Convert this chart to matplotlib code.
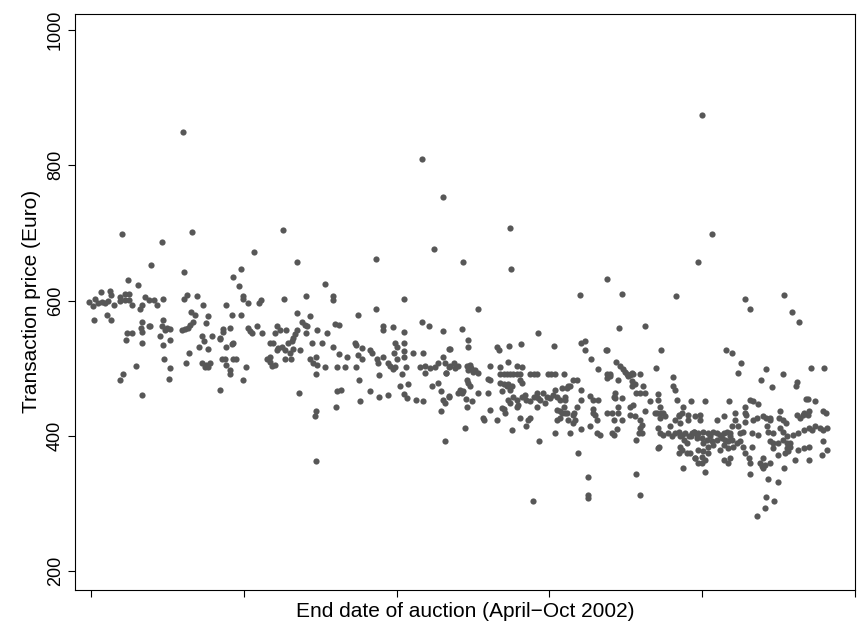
import matplotlib
matplotlib.use("Agg")
import matplotlib.pyplot as plt
import numpy as np

# auction end (days since 1 April 2002) and transaction price (Euro)
april_may = [
    (11.7, 652), (18.3, 643), (7.3, 630), (9.3, 623), (1.9, 613), (3.7, 614), (3.9, 608),
    (-0.3, 598), (0.8, 603), (1.4, 597), (2.1, 598), (2.7, 597), (3.3, 599), (4.5, 593), (0.3, 592),
    (5.7, 606), (6.7, 609), (7.5, 610), (5.7, 600), (6.7, 601), (7.5, 601),
    (8.0, 593), (10.6, 606), (11.3, 601), (12.4, 601), (14.1, 603), (12.9, 593), (10.0, 593), (9.6, 587),
    (18.8, 608), (18.3, 603), (20.9, 607), (21.9, 593), (19.6, 583), (20.4, 578), (23.0, 577),
    (0.6, 572), (3.1, 578), (3.9, 572),
    (10.0, 568), (9.8, 560), (11.3, 562), (11.6, 563),
    (14.2, 572), (13.9, 562), (14.9, 560), (15.5, 558), (14.5, 557),
    (17.8, 557), (18.5, 558), (19.1, 560), (19.4, 564), (20.1, 569), (22.6, 567),
    (7.0, 552), (8.0, 552), (6.8, 542), (10.0, 553), (10.0, 538),
    (13.5, 548), (15.6, 542), (14.2, 534),
    (21.7, 547), (22.2, 540), (21.3, 531), (23.0, 528),
    (19.3, 522), (18.7, 508), (14.4, 513), (15.6, 501), (15.4, 484),
    (21.7, 508), (22.6, 505), (23.4, 508), (22.4, 502), (23.0, 502),
    (8.8, 503), (6.3, 491), (5.7, 483), (10.0, 461),
]

may_june = [
    (32.0, 672), (40.5, 657), (29.5, 647), (27.9, 635), (29.1, 621), (45.9, 624),
    (29.8, 607), (29.9, 603), (30.8, 597), (32.9, 597), (33.4, 601), (37.8, 603), (42.3, 607),
    (26.6, 594), (40.5, 582), (27.6, 578), (29.5, 579),
    (41.4, 568), (42.0, 564), (42.4, 562), (43.0, 577),
    (26.0, 558), (26.0, 553), (27.3, 560), (25.3, 545), (23.7, 547),
    (30.9, 560), (31.2, 555), (31.6, 552), (32.5, 563), (33.5, 552),
    (36.5, 562), (37.1, 557), (36.1, 552), (38.3, 557),
    (40.4, 557), (40.0, 550), (39.7, 545), (39.4, 540), (38.7, 537),
    (44.3, 557), (42.3, 552), (43.3, 538), (45.3, 537), (46.4, 552),
    (25.3, 543), (27.9, 537), (27.6, 536), (26.6, 532),
    (35.1, 537), (35.8, 537), (36.8, 530), (37.5, 532), (36.5, 527), (38.1, 527),
    (41.0, 527), (39.7, 528),
    (35.1, 517), (34.5, 513), (35.1, 509), (35.5, 503), (36.1, 505), (38.1, 513), (39.2, 513), (39.1, 522),
    (25.7, 514), (26.3, 513), (26.6, 505), (27.3, 498), (27.3, 492), (27.9, 513), (28.5, 514),
    (30.4, 502), (29.9, 483), (25.3, 468),
    (43.0, 513), (43.6, 508), (44.2, 517), (44.3, 505), (44.1, 492), (45.9, 502),
    (40.9, 464), (44.2, 436), (44.0, 429), (44.2, 363),
]

june_july = [
    (67.4, 676), (56.0, 662), (47.6, 607), (47.6, 601), (61.5, 603), (56.0, 588), (52.5, 578),
    (48.6, 564), (48.0, 565),
    (57.4, 563), (57.3, 557), (59.2, 561), (64.9, 568), (66.4, 562), (61.5, 553), (69.2, 555),
    (47.6, 531), (51.8, 537), (52.0, 535), (53.2, 530), (54.8, 527), (55.1, 523),
    (59.7, 537), (60.1, 532), (61.5, 538), (61.5, 525), (59.5, 523), (63.3, 522), (65.1, 522), (70.3, 528),
    (48.6, 521), (50.2, 517), (52.5, 519), (53.2, 513), (56.1, 513), (56.3, 508), (57.4, 517), (60.1, 513), (61.5, 517),
    (58.4, 507), (58.7, 503), (59.2, 499), (59.7, 502), (61.0, 492), (61.8, 502),
    (48.4, 502), (49.9, 502), (52.0, 502), (56.6, 490),
    (64.6, 502), (65.6, 503), (66.6, 500), (67.5, 502), (68.2, 507), (69.2, 517), (69.5, 508), (70.2, 502),
    (65.6, 493), (69.7, 493),
    (52.6, 482), (60.7, 474), (62.3, 476), (61.5, 462), (62.1, 456),
    (54.8, 466), (56.6, 458), (58.4, 461), (48.4, 466), (49.0, 468),
    (48.2, 443), (52.8, 451), (63.9, 453), (65.1, 451),
    (67.0, 473), (68.2, 478), (68.7, 467), (69.2, 453), (69.5, 448), (68.7, 437), (70.2, 458),
    (69.5, 393),
]

july = [
    (73.0, 657), (82.5, 647), (76.0, 588), (72.8, 558), (87.8, 552), (74.0, 542), (74.0, 531), (70.5, 529),
    (79.7, 532), (80.2, 527), (82.1, 533), (84.4, 536), (90.9, 533),
    (70.5, 503), (71.2, 508), (71.5, 500), (72.1, 503), (69.8, 493),
    (73.8, 503), (74.4, 505), (74.7, 500), (75.1, 495), (75.4, 498), (75.9, 493), (74.1, 497),
    (78.3, 503), (80.3, 502), (81.9, 509), (83.6, 503), (84.7, 502),
    (80.3, 492), (81.0, 492), (81.6, 492), (82.3, 492), (82.9, 492), (83.6, 492), (84.2, 492),
    (86.2, 492), (86.9, 492), (87.5, 492),
    (89.8, 492), (90.4, 492), (91.1, 492), (92.9, 492),
    (78.0, 484), (78.3, 483), (73.8, 483), (74.1, 478), (74.4, 473), (84.2, 483), (84.6, 478),
    (80.3, 478), (81.0, 476), (81.6, 473), (81.9, 476), (82.6, 473), (82.3, 468),
    (72.5, 468), (72.8, 463), (72.1, 463), (73.1, 466), (76.0, 464), (78.0, 464), (80.6, 466),
    (70.3, 459), (73.6, 454), (73.8, 443), (74.9, 452), (78.3, 438), (77.0, 426), (81.0, 440), (81.3, 434),
    (81.9, 453), (82.3, 448), (82.9, 458), (83.6, 453), (83.9, 446), (83.6, 443),
    (84.6, 458), (85.2, 461), (85.5, 453), (86.2, 451), (86.9, 458), (87.5, 463), (87.8, 456), (88.2, 453),
    (88.8, 463), (89.5, 458), (90.1, 456), (90.8, 461), (91.1, 468), (91.4, 458), (92.1, 453), (93.1, 458),
    (93.4, 471), (93.7, 473),
    (89.1, 448), (91.4, 438), (92.1, 436), (93.1, 434),
    (86.2, 426), (87.5, 443), (84.2, 426),
    (77.2, 424), (79.7, 423), (80.6, 441), (73.4, 411), (82.6, 408), (85.9, 424), (85.5, 414),
    (88.0, 392), (86.8, 303), (91.1, 404), (94.0, 404), (91.4, 424), (92.1, 426), (93.7, 424),
]

august = [
    (119.2, 657), (101.3, 632), (96.0, 608), (104.3, 609), (114.9, 607), (103.7, 559), (108.8, 562),
    (96.3, 537), (97.0, 540), (97.0, 527), (101.1, 527), (101.4, 527), (111.9, 527), (98.2, 513), (99.5, 499),
    (103.1, 509), (103.9, 503), (104.5, 499), (104.8, 495), (105.2, 492), (105.5, 488), (105.8, 490),
    (106.2, 493), (106.5, 492), (107.8, 492),
    (110.9, 501), (101.3, 492), (101.9, 492), (101.3, 485), (101.9, 488),
    (114.3, 487), (94.6, 482), (95.4, 482), (103.5, 483),
    (106.2, 481), (106.2, 473), (106.8, 476), (108.4, 473), (114.3, 473), (114.7, 468),
    (94.0, 473), (96.3, 468), (92.4, 471),
    (107.1, 463), (107.8, 463), (108.8, 463), (111.4, 462), (102.9, 463), (102.6, 458),
    (98.0, 459), (93.1, 453), (96.3, 453), (98.6, 453), (99.6, 453), (104.2, 456), (102.9, 456),
    (111.4, 453), (117.8, 452), (115.0, 453), (109.8, 451),
    (92.8, 443), (95.4, 443), (94.8, 434), (98.6, 439), (98.9, 431), (101.3, 434), (102.2, 434),
    (103.5, 443), (105.8, 443), (106.5, 446), (108.8, 436), (111.8, 443), (111.2, 434), (112.4, 434),
    (116.3, 443), (115.4, 431), (117.3, 431),
    (94.7, 431), (95.0, 424), (94.6, 419), (92.4, 434), (93.4, 434),
    (96.3, 410), (98.0, 414), (99.3, 404), (100.0, 401), (98.6, 434), (99.3, 424),
    (102.6, 424), (104.2, 424), (103.5, 434), (102.2, 404), (102.6, 401), (103.2, 410),
    (105.8, 431), (106.8, 429), (107.8, 424), (108.1, 416), (107.8, 411), (107.5, 404), (108.1, 404), (107.1, 394),
    (110.7, 434), (112.0, 434), (111.7, 426), (112.7, 429),
    (111.4, 411), (111.7, 404), (112.4, 401), (111.4, 382),
    (113.7, 414), (113.3, 404), (114.0, 399), (114.7, 424), (115.4, 429), (116.0, 434), (115.6, 419), (117.3, 424),
    (114.7, 404), (115.4, 406), (115.7, 399), (116.0, 401), (116.4, 394), (116.7, 404), (117.0, 389),
    (117.4, 399), (118.0, 404), (118.4, 406), (119.0, 401), (115.7, 384), (116.0, 379), (115.4, 374),
    (117.0, 374), (117.7, 375), (118.6, 367), (116.3, 352), (119.2, 360),
    (95.7, 374), (97.5, 339), (97.5, 313), (97.5, 308), (107.1, 344), (107.7, 312), (111.6, 383),
]

september = [
    (128.4, 603), (129.4, 587), (136.1, 608), (137.7, 583), (139.1, 568), (124.7, 527), (125.9, 522),
    (127.6, 507), (127.0, 493), (132.5, 499), (131.6, 482), (133.8, 472), (135.9, 492), (141.4, 501),
    (143.9, 501), (138.6, 479), (138.4, 473),
    (120.6, 452), (125.3, 452), (128.4, 443), (129.3, 453), (130.0, 451), (131.0, 447), (140.3, 454),
    (140.8, 455), (142.2, 452), (135.3, 437), (126.4, 434), (128.4, 434), (119.6, 431), (124.2, 429),
    (138.6, 431), (139.9, 434), (140.9, 436), (143.7, 437), (144.4, 434), (132.0, 429), (133.3, 426), (135.0, 426),
    (118.6, 429), (119.6, 424), (122.9, 424), (126.4, 424), (128.7, 431), (128.4, 421), (130.0, 424),
    (130.7, 426), (132.6, 426), (133.3, 424), (135.9, 423), (136.5, 419), (139.2, 426), (139.8, 431), (140.8, 431),
    (125.8, 414), (127.1, 414), (125.4, 404), (127.4, 404), (128.1, 406), (129.7, 404), (131.0, 401),
    (132.7, 414), (133.0, 406), (134.0, 404), (135.3, 411), (135.9, 406), (136.6, 399), (137.3, 389),
    (137.9, 401), (138.9, 404), (139.9, 409), (140.9, 411), (141.5, 409), (142.2, 414), (143.2, 411),
    (143.8, 409), (144.5, 411),
    (118.3, 406), (119.2, 404), (120.2, 406), (121.2, 404), (121.5, 399), (122.2, 406), (122.9, 404),
    (123.5, 401), (124.2, 404), (124.8, 406), (125.5, 399), (117.9, 399), (118.9, 397), (119.9, 397),
    (120.9, 394), (121.9, 392), (122.9, 394), (123.8, 397), (124.5, 394), (125.1, 392), (125.8, 394),
    (120.2, 389), (121.2, 384), (122.2, 387), (124.2, 387), (125.1, 382), (119.2, 379), (120.2, 377),
    (121.2, 374), (119.9, 369), (120.6, 364), (119.9, 360), (120.6, 347), (118.6, 367), (124.2, 364),
    (125.5, 367), (125.1, 360), (123.5, 379), (126.1, 384), (126.8, 389), (127.5, 392), (128.1, 384),
    (128.4, 374), (129.1, 367), (129.4, 360), (129.7, 384), (129.3, 344),
    (131.4, 360), (131.7, 355), (132.0, 352), (132.4, 357), (133.3, 360), (132.0, 367),
    (133.0, 336), (134.8, 332), (132.5, 309), (132.3, 293), (134.2, 303), (130.8, 281),
    (133.3, 392), (134.0, 389), (134.9, 389), (135.9, 394), (136.6, 389), (137.3, 384),
    (134.0, 382), (134.9, 372), (136.3, 374), (136.6, 382), (136.9, 377), (136.1, 353),
    (138.2, 364), (138.9, 379), (139.9, 382), (140.9, 384), (140.9, 364), (143.5, 372), (144.5, 379), (143.8, 392),
]

outliers = [
    (6.1, 698), (13.9, 687), (18.1, 849), (19.8, 702), (37.7, 704), (65.0, 809),
    (69.1, 753), (82.3, 708), (120.0, 874), (121.9, 698),
]

x_ticks = [0, 30, 60, 90, 120, 150]
y_ticks = [200, 400, 600, 800, 1000]


def main():
    pts = np.array(april_may + may_june + june_july + july + august + september + outliers)

    plt.rcParams["font.family"] = ["Liberation Sans", "DejaVu Sans"]
    fig = plt.figure(figsize=(8.61, 6.31), dpi=100)
    ax = fig.add_axes([0.0871, 0.065, 0.9059, 0.913])

    ax.scatter(pts[:, 0], pts[:, 1], s=20, color="#575757", linewidths=0)

    ax.set_xlim(-3.14, 150.0)
    ax.set_ylim(172, 1024)
    ax.set_xticks(x_ticks)
    ax.set_xticklabels([])
    ax.set_yticks(y_ticks)
    ax.set_yticklabels([str(v) for v in y_ticks], rotation=90, va="center", fontsize=13)
    ax.tick_params(direction="out", length=5, width=0.8, color="black", pad=3)
    for sp in ax.spines.values():
        sp.set_linewidth(0.8)

    ax.set_xlabel("End date of auction (April\u2212Oct 2002)", fontsize=15, labelpad=1)
    ax.set_ylabel("Transaction price (Euro)", fontsize=15, labelpad=4)

    fig.savefig("out.png", dpi=100)
    plt.close(fig)


if __name__ == "__main__":
    main()
